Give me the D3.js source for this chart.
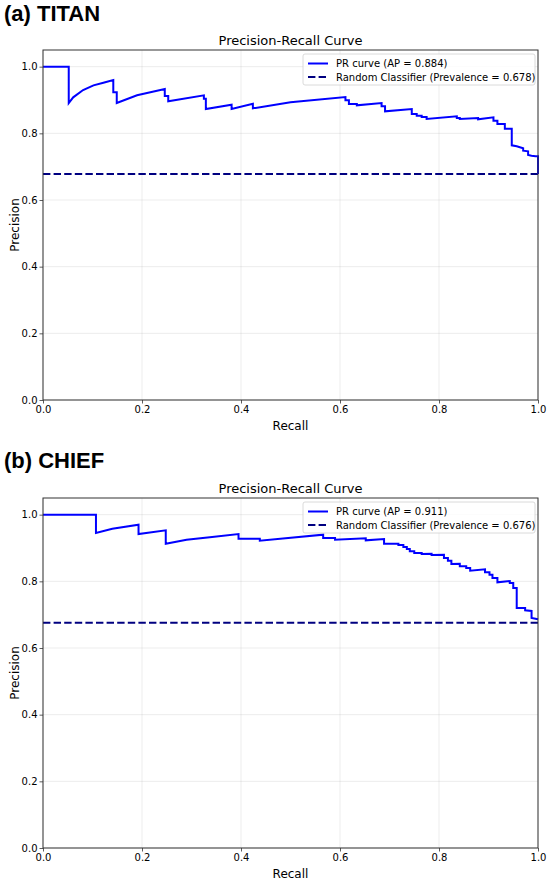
<!DOCTYPE html>
<html>
<head>
<meta charset="utf-8">
<script src="https://cdn.jsdelivr.net/npm/d3@7/dist/d3.min.js"></script>
<style>
  html, body { margin: 0; padding: 0; background: #fff; }
  svg { display: block; }
  text { font-family: "DejaVu Sans", sans-serif; fill: #000; }
</style>
</head>
<body>
<svg id="chart" width="550" height="882"></svg>
<script>
// ---------- data ----------
const xTicks = [0.0, 0.2, 0.4, 0.6, 0.8, 1.0];
const yTicks = [0.0, 0.2, 0.4, 0.6, 0.8, 1.0];

const panelLabels = ["(a) TITAN", "(b) CHIEF"];
const apValues = [0.884, 0.911];
const prevalences = [0.678, 0.676];

const titanRecall = [0, 0.052, 0.052, 0.061, 0.081, 0.102, 0.122, 0.142, 0.142, 0.149, 0.149, 0.19, 0.246, 0.246, 0.253, 0.253, 0.325, 0.325, 0.329, 0.329, 0.381, 0.381, 0.424, 0.424, 0.5, 0.611, 0.611, 0.618, 0.618, 0.634, 0.634, 0.684, 0.684, 0.691, 0.691, 0.745, 0.745, 0.755, 0.755, 0.765, 0.765, 0.775, 0.775, 0.836, 0.836, 0.842, 0.842, 0.879, 0.879, 0.910, 0.910, 0.918, 0.918, 0.933, 0.933, 0.947, 0.947, 0.957, 0.970, 0.970, 0.980, 0.980, 0.987, 0.995, 1.0, 1.0];
const titanPrecision = [1.0, 1.0, 0.891, 0.908, 0.930, 0.944, 0.952, 0.960, 0.923, 0.923, 0.891, 0.914, 0.933, 0.912, 0.912, 0.896, 0.914, 0.904, 0.904, 0.873, 0.886, 0.873, 0.889, 0.875, 0.893, 0.909, 0.899, 0.899, 0.888, 0.888, 0.884, 0.891, 0.881, 0.881, 0.866, 0.873, 0.858, 0.858, 0.853, 0.853, 0.849, 0.849, 0.843, 0.851, 0.846, 0.846, 0.843, 0.846, 0.842, 0.848, 0.838, 0.838, 0.828, 0.828, 0.814, 0.814, 0.764, 0.761, 0.755, 0.748, 0.746, 0.735, 0.733, 0.731, 0.731, 0.678];

const chiefRecall = [0, 0.107, 0.107, 0.14, 0.193, 0.193, 0.248, 0.248, 0.29, 0.337, 0.395, 0.395, 0.438, 0.438, 0.566, 0.566, 0.590, 0.590, 0.652, 0.652, 0.689, 0.689, 0.718, 0.718, 0.728, 0.728, 0.735, 0.735, 0.741, 0.741, 0.750, 0.750, 0.765, 0.765, 0.785, 0.785, 0.810, 0.810, 0.818, 0.818, 0.825, 0.825, 0.842, 0.842, 0.855, 0.855, 0.863, 0.863, 0.893, 0.893, 0.902, 0.902, 0.908, 0.908, 0.918, 0.918, 0.943, 0.943, 0.950, 0.950, 0.957, 0.957, 0.974, 0.974, 0.987, 0.987, 0.995, 1.0];
const chiefPrecision = [1.0, 1.0, 0.945, 0.958, 0.970, 0.942, 0.953, 0.913, 0.925, 0.932, 0.942, 0.928, 0.928, 0.922, 0.940, 0.930, 0.930, 0.925, 0.929, 0.923, 0.927, 0.913, 0.913, 0.909, 0.909, 0.903, 0.903, 0.897, 0.897, 0.890, 0.890, 0.885, 0.885, 0.882, 0.883, 0.879, 0.880, 0.870, 0.870, 0.862, 0.862, 0.852, 0.853, 0.845, 0.845, 0.840, 0.840, 0.832, 0.836, 0.827, 0.827, 0.820, 0.820, 0.810, 0.810, 0.797, 0.801, 0.795, 0.795, 0.780, 0.780, 0.720, 0.720, 0.713, 0.711, 0.690, 0.688, 0.686];

const panels = [
  { recall: titanRecall, precision: titanPrecision, top: 50, labelY: 21 },
  { recall: chiefRecall, precision: chiefPrecision, top: 498, labelY: 468 }
];

// ---------- drawing ----------
const svg = d3.select("#chart");
const left = 43, width = 495, height = 350;

panels.forEach((p, i) => {
  const x = d3.scaleLinear().domain([0, 1]).range([left, left + width]);
  const y = d3.scaleLinear().domain([0, 1.05]).range([p.top + height, p.top]);
  const g = svg.append("g");

  // panel label
  svg.append("text")
    .attr("x", 4).attr("y", p.labelY)
    .style("font-family", "'Liberation Sans', Arial, sans-serif")
    .style("font-weight", "bold").style("font-size", "22px")
    .text(panelLabels[i]);

  // title
  g.append("text")
    .attr("x", left + width / 2).attr("y", p.top - 5)
    .attr("text-anchor", "middle").style("font-size", "13px")
    .text("Precision-Recall Curve");

  // grid
  g.append("g").selectAll("line").data(xTicks).join("line")
    .attr("x1", d => x(d)).attr("x2", d => x(d))
    .attr("y1", p.top).attr("y2", p.top + height)
    .attr("stroke", "#b0b0b0").attr("stroke-opacity", 0.3).attr("stroke-width", 0.8);
  g.append("g").selectAll("line").data(yTicks).join("line")
    .attr("x1", left).attr("x2", left + width)
    .attr("y1", d => y(d)).attr("y2", d => y(d))
    .attr("stroke", "#b0b0b0").attr("stroke-opacity", 0.3).attr("stroke-width", 0.8);

  // random classifier line
  g.append("line")
    .attr("x1", x(0)).attr("x2", x(1))
    .attr("y1", y(prevalences[i])).attr("y2", y(prevalences[i]))
    .attr("stroke", "#000080").attr("stroke-width", 2)
    .attr("stroke-dasharray", "7.4,3.2");

  // PR curve
  const pts = p.recall.map((r, k) => [r, p.precision[k]]);
  const line = d3.line().x(d => x(d[0])).y(d => y(d[1]));
  g.append("path").datum(pts)
    .attr("d", line).attr("fill", "none")
    .attr("stroke", "#0000ff").attr("stroke-width", 2)
    .attr("stroke-linejoin", "miter").attr("stroke-linecap", "butt");

  // axes
  const xAxis = d3.axisBottom(x).tickValues(xTicks).tickFormat(d3.format(".1f")).tickSize(3.5).tickPadding(2);
  const yAxis = d3.axisLeft(y).tickValues(yTicks).tickFormat(d3.format(".1f")).tickSize(3.5).tickPadding(2);
  const gx = g.append("g").attr("transform", `translate(0,${p.top + height})`).call(xAxis);
  const gy = g.append("g").attr("transform", `translate(${left},0)`).call(yAxis);
  [gx, gy].forEach(a => {
    a.select(".domain").remove();
    a.selectAll(".tick line").attr("stroke", "#333").attr("stroke-width", 0.8);
    a.selectAll(".tick text").style("font-size", "10px").style("font-family", "'DejaVu Sans', sans-serif").attr("fill", "#222");
  });

  // spines
  g.append("rect")
    .attr("x", left).attr("y", p.top).attr("width", width).attr("height", height)
    .attr("fill", "none").attr("stroke", "#333").attr("stroke-width", 1);

  // axis labels
  g.append("text")
    .attr("x", left + width / 2).attr("y", p.top + height + 30)
    .attr("text-anchor", "middle").style("font-size", "12px")
    .text("Recall");
  g.append("text")
    .attr("transform", `translate(19,${p.top + height / 2}) rotate(-90)`)
    .attr("text-anchor", "middle").style("font-size", "12px")
    .text("Precision");

  // legend
  const lg = g.append("g").attr("transform", `translate(303,${p.top + 4})`);
  lg.append("rect")
    .attr("x", 0).attr("y", 0).attr("width", 232).attr("height", 31).attr("rx", 2)
    .attr("fill", "#fff").attr("fill-opacity", 0.8)
    .attr("stroke", "#d0d0d0").attr("stroke-width", 0.8);
  const items = [
    { label: `PR curve (AP = ${apValues[i].toFixed(3)})`, color: "#0000ff", dash: null },
    { label: `Random Classifier (Prevalence = ${prevalences[i].toFixed(3)})`, color: "#000080", dash: "7.4,3.2" }
  ];
  items.forEach((it, k) => {
    const cy = 9.5 + k * 13.5;
    lg.append("line").attr("x1", 5).attr("x2", 25).attr("y1", cy).attr("y2", cy)
      .attr("stroke", it.color).attr("stroke-width", 2)
      .attr("stroke-dasharray", it.dash);
    lg.append("text").attr("x", 33).attr("y", cy + 3.5)
      .style("font-size", "10px").text(it.label);
  });
});
</script>
</body>
</html>
